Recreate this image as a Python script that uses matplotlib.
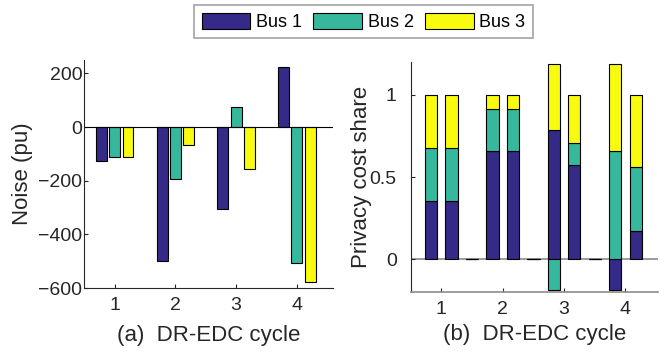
"""Noise per bus and privacy cost share per DR-EDC cycle."""

import matplotlib
import matplotlib.pyplot as plt
import numpy as np
from matplotlib.ticker import FormatStrFormatter

matplotlib.use("Agg")

plt.rcParams["font.family"] = ["Liberation Sans", "DejaVu Sans"]

# data
cycles = [1, 2, 3, 4]
bus_names = ["Bus 1", "Bus 2", "Bus 3"]
colors = ["#352A87", "#36B89C", "#F9FB0E"]

noise_bus1 = [-125, -500, -306, 224]
noise_bus2 = [-112, -195, 73, -507]
noise_bus3 = [-113, -66, -157, -576]

# stacked share bars: two per cycle, with an empty slot between cycles
share_bus1 = [0.356, 0.356, 0, 0.656, 0.656, 0, 0.785, 0.573, 0, -0.184, 0.170]
share_bus2 = [0.318, 0.318, 0, 0.255, 0.255, 0, -0.185, 0.133, 0, 0.656, 0.389]
share_bus3 = [0.326, 0.326, 0, 0.089, 0.089, 0, 0.400, 0.294, 0, 0.528, 0.441]

fig = plt.figure(figsize=(6.67, 3.52), dpi=100)
ax1 = fig.add_axes([0.1264, 0.1818, 0.3733, 0.6477])
ax2 = fig.add_axes([0.6157, 0.1696, 0.3708, 0.6551])

dark = "#262626"

# (a) grouped noise bars
x = np.array(cycles, dtype=float)
offsets = [-0.22, 0.0, 0.22]
for vals, off, col, name in zip([noise_bus1, noise_bus2, noise_bus3], offsets, colors, bus_names):
    ax1.bar(x + off, vals, width=0.18, color=col, edgecolor="black", linewidth=0.8, label=name)
ax1.axhline(0, color="black", linewidth=0.8)
ax1.set_xlim(0.5, 4.6)
ax1.set_ylim(-600, 250)
ax1.set_xticks(cycles)
ax1.set_yticks([-600, -400, -200, 0, 200])
ax1.set_ylabel("Noise (pu)", fontsize=16, color=dark)
ax1.set_xlabel("(a)  DR-EDC cycle", fontsize=16, color=dark, va="center")
ax1.yaxis.set_label_coords(-0.206, 0.5)
ax1.xaxis.set_label_coords(0.5, -0.21)

# (b) stacked share bars, negatives stacked downward from zero
xs = 1 - 1 / 6 + np.arange(len(share_bus1)) / 3
pos_bottom = np.zeros(len(xs))
neg_bottom = np.zeros(len(xs))
for vals, col in zip([share_bus1, share_bus2, share_bus3], colors):
    v = np.array(vals)
    bottom = np.where(v >= 0, pos_bottom, neg_bottom)
    ax2.bar(xs, v, width=0.2, bottom=bottom, color=col, edgecolor="black", linewidth=0.8)
    pos_bottom += np.clip(v, 0, None)
    neg_bottom += np.clip(v, None, 0)
ax2.axhline(0, color="#8c8c8c", linewidth=1.2, zorder=0.5)
ax2.set_xlim(0.5, 4.53)
ax2.set_ylim(-0.2, 1.2)
ax2.set_xticks(cycles)
ax2.set_yticks([0, 0.5, 1])
ax2.yaxis.set_major_formatter(FormatStrFormatter("%g"))
ax2.set_ylabel("Privacy cost share", fontsize=16, color=dark)
ax2.set_xlabel("(b)  DR-EDC cycle", fontsize=16, color=dark, va="center")
ax2.yaxis.set_label_coords(-0.156, 0.5)
ax2.xaxis.set_label_coords(0.5, -0.181)

for ax in (ax1, ax2):
    for side in ("top", "right"):
        ax.spines[side].set_visible(False)
    ax.spines["left"].set_color(dark)
    ax.spines["bottom"].set_color(dark)
    ax.spines["left"].set_linewidth(0.8)
    ax.spines["bottom"].set_linewidth(0.8)
    ax.tick_params(direction="in", length=3, width=0.8, colors=dark, labelsize=14)
    ax.tick_params(axis="x", pad=6.5)
ax1.tick_params(axis="y", pad=1.5)
ax2.tick_params(axis="y", pad=10)
ax2.spines["bottom"].set_color("#8c8c8c")
ax2.spines["bottom"].set_linewidth(1.2)

handles, labels = ax1.get_legend_handles_labels()
leg = fig.legend(
    handles,
    labels,
    loc="center",
    bbox_to_anchor=(363.5 / 667, 1 - 21.7 / 352),
    ncol=3,
    fontsize=13,
    frameon=True,
    fancybox=False,
    edgecolor="#8c8c8c",
    handlelength=2.7,
    handleheight=1.0,
    handletextpad=0.3,
    columnspacing=0.65,
    borderpad=0.4,
    borderaxespad=0,
)
leg.get_frame().set_linewidth(1.2)

fig.savefig("out.png", dpi=100)
plt.close(fig)
